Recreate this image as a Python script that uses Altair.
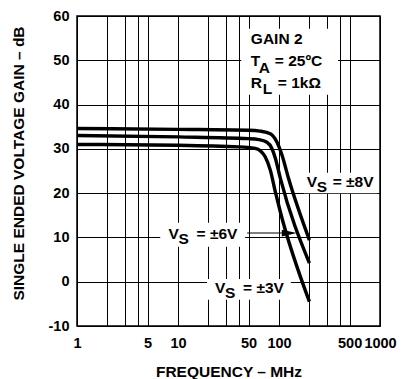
import altair as alt
import pandas as pd

# ---- data ----
freq_8 = [1, 10, 50, 65, 82, 95, 107, 124, 200]
gain_8 = [34.6, 34.4, 34.2, 34.0, 33.4, 31.6, 28.6, 23.4, 9.4]
freq_6 = [1, 10, 50, 63, 76, 85, 92, 103, 200]
gain_6 = [33.0, 32.7, 32.3, 32.1, 31.5, 30.1, 27.9, 23.4, 4.2]
freq_3 = [1, 10, 45, 58, 65, 73, 82, 92, 103, 200]
gain_3 = [31.0, 30.8, 30.4, 30.1, 29.6, 28.2, 25.2, 20.3, 15.8, -4.5]

x_grid = [1, 2, 3, 4, 5, 10, 20, 30, 40, 50, 100, 200, 300, 400, 500, 1000]
x_labels = [1, 5, 10, 50, 100, 500, 1000]
y_ticks = [-10, 0, 10, 20, 30, 40, 50, 60]

# annotation boxes (white backgrounds), in data units
box_f1 = [42.3, 177, 6.67, 19.4]
box_f2 = [384, 955, 46.2, 131]
box_g1 = [57.1, 24.6, 13.3, 0.6]
box_g2 = [42.2, 20.0, 7.9, -4.1]

FONT = "Liberation Sans"

rows = []
for name, fs, gs in [("8", freq_8, gain_8), ("6", freq_6, gain_6), ("3", freq_3, gain_3)]:
    for i, (f, g) in enumerate(zip(fs, gs)):
        rows.append({"series": name, "f": f, "g": g, "order": i})
curves = pd.DataFrame(rows)

xs = alt.Scale(type="log", domain=[1, 1000], nice=False)
ys = alt.Scale(domain=[-10, 60], nice=False)

label_list = ",".join(str(v) for v in x_labels)
x_axis = alt.Axis(
    values=x_grid,
    labelExpr=f"indexof([{label_list}], datum.value) >= 0 ? datum.value + '' : ''",
    title="FREQUENCY \u2013 MHz",
    grid=True, ticks=False, domain=False,
    labelPadding=10, titlePadding=15,
    labelFlush=False, labelOverlap=False,
)
y_axis = alt.Axis(
    values=y_ticks,
    labelExpr="datum.value + ''",
    title="SINGLE ENDED VOLTAGE GAIN \u2013 dB",
    grid=True, ticks=False, domain=False,
    labelPadding=8, titlePadding=22, titleY=147,
)


def X(field):
    return alt.X(field, type="quantitative", scale=xs, axis=x_axis)


def Y(field):
    return alt.Y(field, type="quantitative", scale=ys, axis=y_axis)


boxes = pd.DataFrame({"f1": box_f1, "f2": box_f2, "g1": box_g1, "g2": box_g2})
box_layer = alt.Chart(boxes).mark_rect(color="white").encode(
    x=X("f1"), x2="f2", y=Y("g1"), y2="g2",
)

curve_layer = alt.Chart(curves).mark_line(
    color="black", strokeWidth=3.4, interpolate="monotone", strokeJoin="round", strokeCap="butt"
).encode(
    x=X("f"), y=Y("g"),
    detail="series:N",
    order="order:Q",
)

# arrow for the +/-6V label
arrow_f = [48.4, 116]
arrow_g = [11.0]
arrow_rule = alt.Chart(pd.DataFrame({"f1": [arrow_f[0]], "f2": [arrow_f[1]], "g": arrow_g})).mark_rule(
    color="black", strokeWidth=1
).encode(
    x=X("f1"), x2="f2", y=Y("g"),
)
arrow_head = alt.Chart(pd.DataFrame({"f": [126.5], "g": arrow_g})).mark_point(
    shape="M-1,-0.45 L1,0 L-1,0.45 Z", filled=True, color="black", size=225, opacity=1
).encode(
    x=X("f"), y=Y("g"),
)

# text pieces: (text, f, g, dx, dy)
texts = [
    ("GAIN 2", 52.6, 53.7, 0, 0),
    ("T", 52.6, 48.7, 0, 0),
    ("A", 52.6, 48.7, 8, 7),
    ("= 25\u00baC", 52.6, 48.7, 24, 0),
    ("R", 52.6, 43.7, 0, 0),
    ("L", 52.6, 43.7, 12, 6),
    ("= 1k\u03a9", 52.6, 43.7, 27, 0),
    ("V", 188, 21.5, 0, 0),
    ("S", 188, 21.5, 10, 5),
    ("= \u00b18V", 188, 21.5, 26, 0),
    ("V", 8.06, 9.7, 0, 0),
    ("S", 8.06, 9.7, 10, 5),
    ("= \u00b16V", 8.06, 9.7, 28, 0),
    ("V", 23.3, -2.6, 0, 0),
    ("S", 23.3, -2.6, 10, 5),
    ("= \u00b13V", 23.3, -2.6, 28, 0),
]
text_layers = []
for t, f, g, dx, dy in texts:
    text_layers.append(
        alt.Chart(pd.DataFrame({"f": [f], "g": [g], "t": [t]})).mark_text(
            font=FONT, fontWeight="bold", fontSize=15.5, align="left",
            baseline="alphabetic", dx=dx, dy=dy, color="black"
        ).encode(
            x=X("f"), y=Y("g"),
            text="t:N",
        )
    )

chart = alt.layer(box_layer, curve_layer, arrow_rule, arrow_head, *text_layers).properties(
    width=303, height=310,
    autosize=alt.AutoSizeParams(type="none"),
    padding={"left": 69, "top": 8, "right": 18, "bottom": 53},
).configure_view(
    stroke="black", strokeWidth=1.5
).configure_axis(
    gridColor="black", gridOpacity=1, gridWidth=1,
    labelFont=FONT, labelFontWeight="bold", labelFontSize=14.5, labelColor="black",
    titleFont=FONT, titleFontWeight="bold", titleFontSize=15.5, titleColor="black",
)

chart.save("out.html", embed_options={"renderer": "svg", "actions": False})
